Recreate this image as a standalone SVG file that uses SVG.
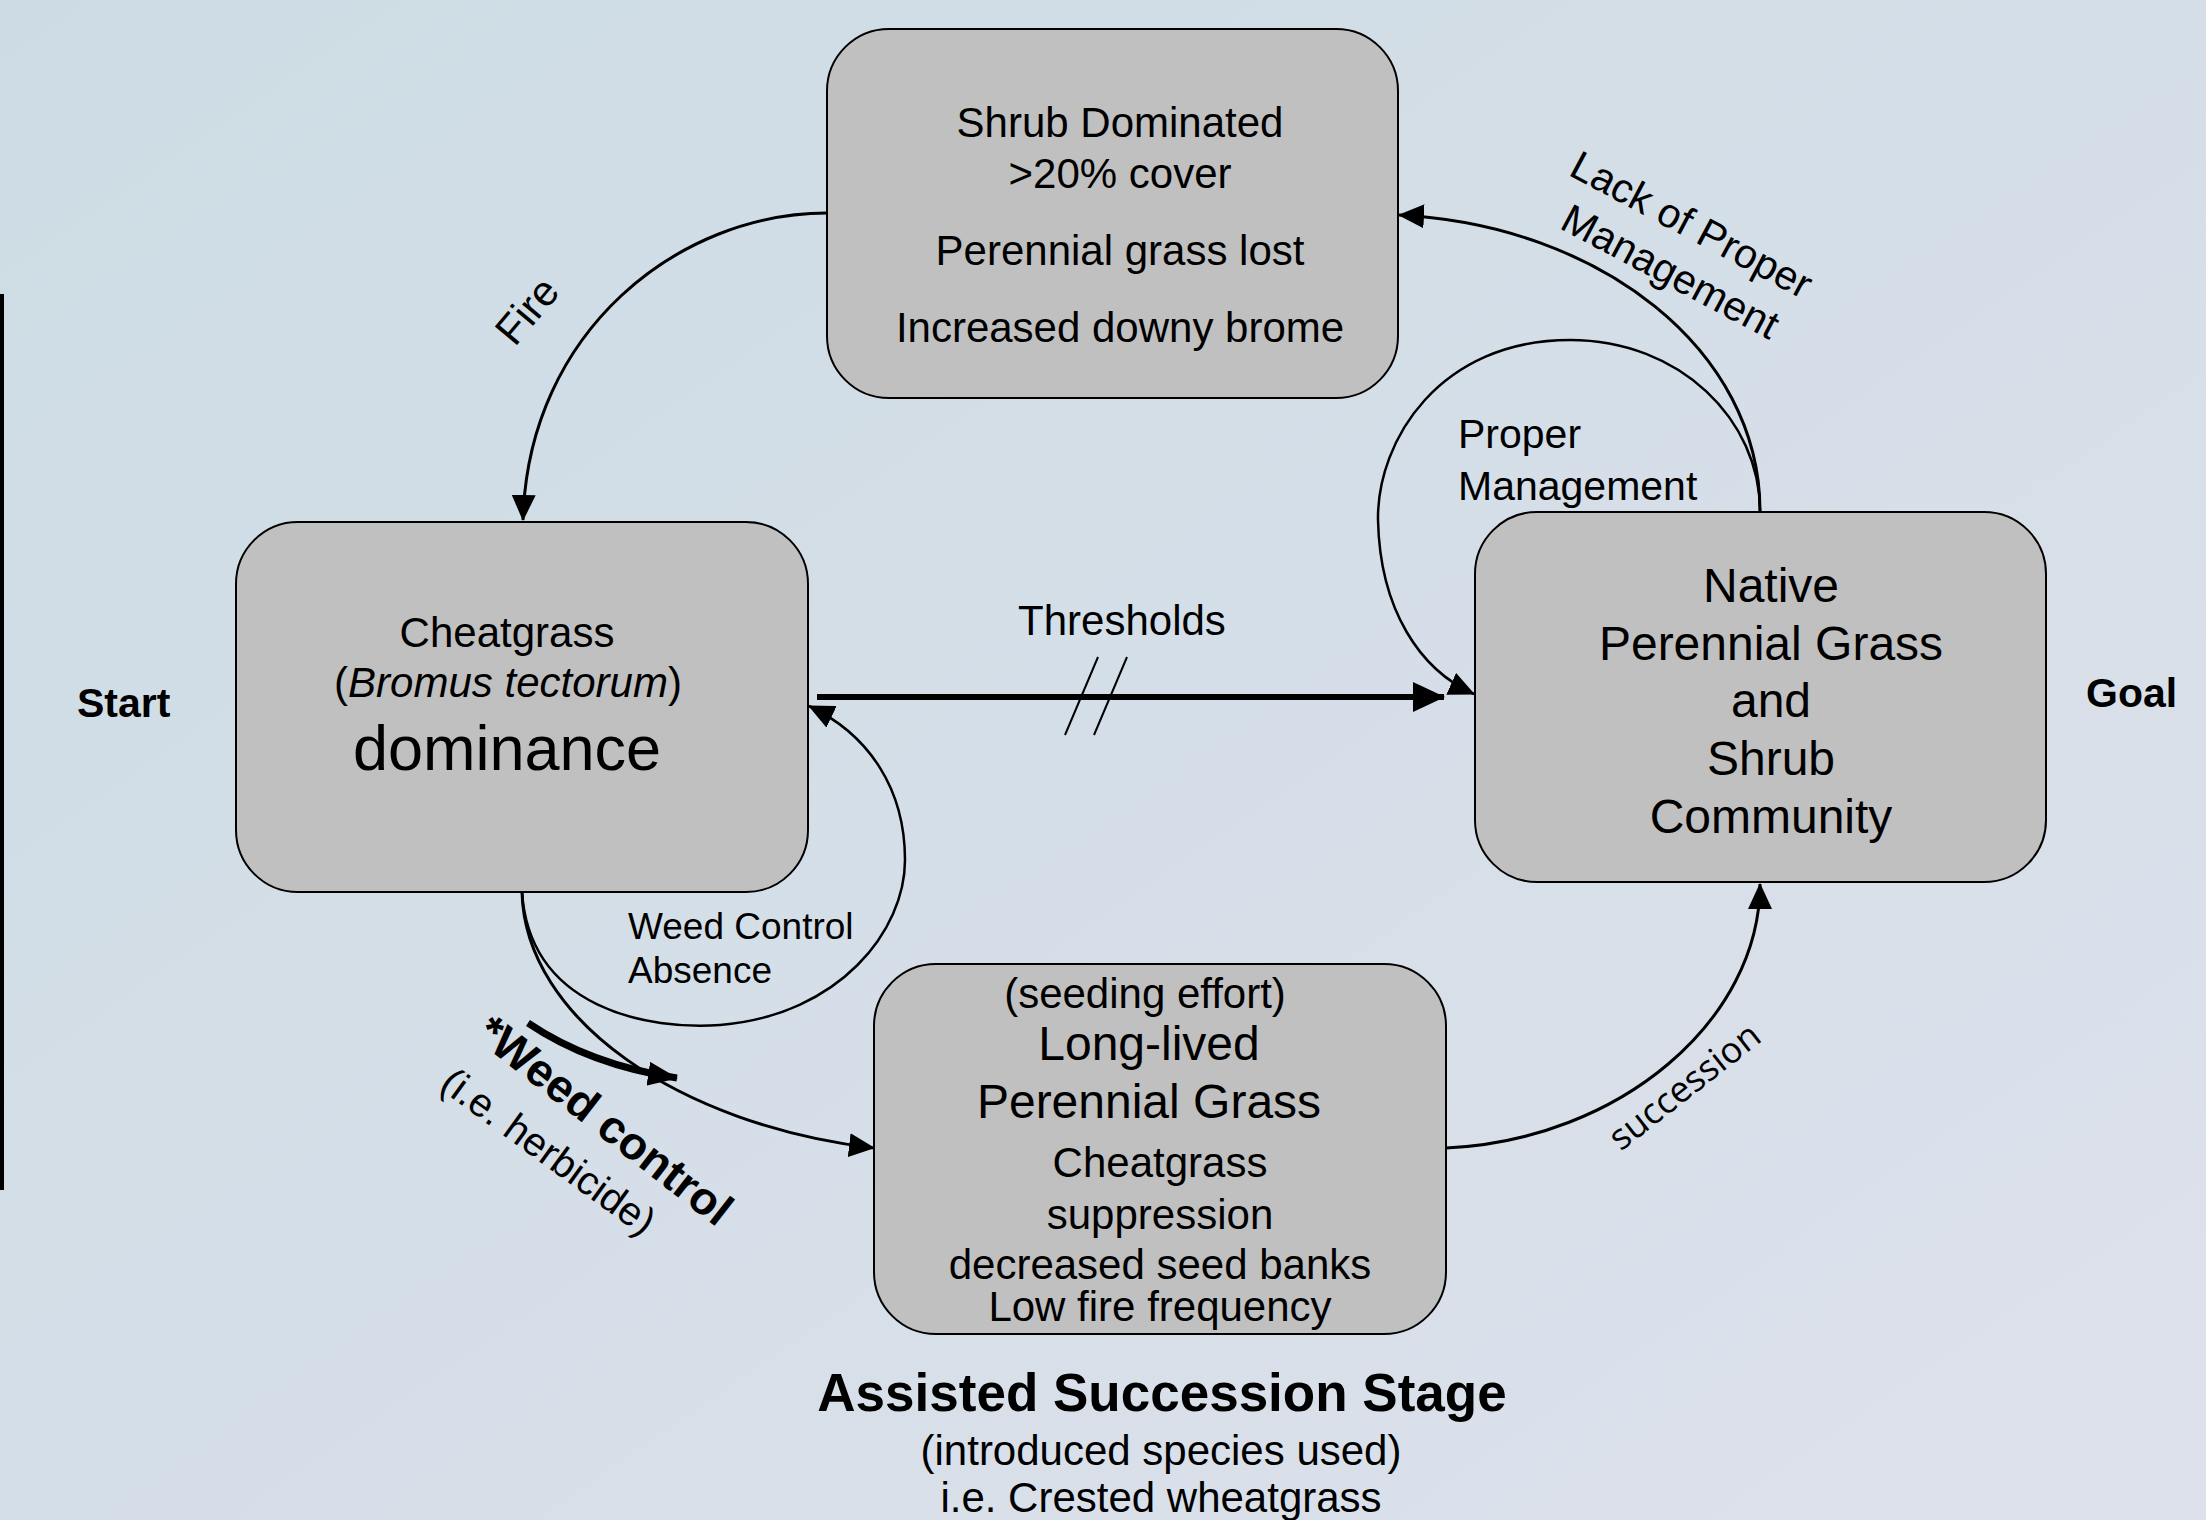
<svg xmlns="http://www.w3.org/2000/svg" width="2206" height="1520" viewBox="0 0 2206 1520">
<defs>
<linearGradient id="bg" x1="0" y1="0" x2="1" y2="1">
<stop offset="0" stop-color="#cddce4"/>
<stop offset="1" stop-color="#dde1ec"/>
</linearGradient>
<marker id="ah" markerUnits="userSpaceOnUse" markerWidth="26" markerHeight="24" refX="25" refY="12" orient="auto">
<path d="M0,0 L26,12 L0,24 z" fill="#000"/>
</marker>
<marker id="ahT" markerUnits="userSpaceOnUse" markerWidth="32" markerHeight="30" refX="31" refY="15" orient="auto">
<path d="M0,0 L32,15 L0,30 z" fill="#000"/>
</marker>
<marker id="ahW" markerUnits="userSpaceOnUse" markerWidth="30" markerHeight="24" refX="29" refY="12" orient="auto">
<path d="M0,0 L30,12 L0,24 z" fill="#000"/>
</marker>
</defs>
<style>
.box{fill:#c0c0c0;stroke:#000;stroke-width:2}
.t{font-family:"Liberation Sans",Arial,sans-serif;fill:#000}
.c{text-anchor:middle}
.b{font-weight:bold}
.ln{fill:none;stroke:#000;stroke-width:3}
.lt{fill:none;stroke:#000;stroke-width:2.5}
</style>
<rect x="0" y="0" width="2206" height="1520" fill="url(#bg)"/>
<line x1="2" y1="294" x2="2" y2="1190" stroke="#000" stroke-width="4"/>

<g id="connectors">
<path class="ln" d="M827,213 C680,213 528,330 523,520" marker-end="url(#ah)"/>
<path class="ln" d="M1760,511 C1760,350 1600,225 1399,215" marker-end="url(#ah)"/>
<path class="lt" d="M1760,511 C1760,420 1680,340 1570,340 C1440,340 1377,440 1378,520 C1380,610 1420,670 1474,694" marker-end="url(#ah)"/>
<path fill="none" stroke="#000" stroke-width="6" d="M817,697 L1444,697" marker-end="url(#ahT)"/>
<line x1="1098" y1="657" x2="1065" y2="735" stroke="#000" stroke-width="2"/>
<line x1="1127" y1="657" x2="1094" y2="735" stroke="#000" stroke-width="2"/>
<path class="lt" d="M522,892 C530,1010 650,1030 720,1025 C840,1015 905,930 905,860 C905,790 870,735 809,706" marker-end="url(#ah)"/>
<path class="ln" d="M522,892 C525,1020 680,1125 874,1148" marker-end="url(#ah)"/>
<path fill="none" stroke="#000" stroke-width="7" d="M528,1023 Q590,1065 677,1078" marker-end="url(#ahW)"/>
<path class="ln" d="M1446,1148 C1620,1140 1760,1020 1760,884" marker-end="url(#ah)"/>
<text class="t c" font-size="42" x="1122" y="635">Thresholds</text>
<text class="t c" font-size="42" transform="translate(538,320) rotate(-50)">Fire</text>
<text class="t c" font-size="41" transform="translate(1685,237) rotate(28)">Lack of Proper</text>
<text class="t c" font-size="41" transform="translate(1664,284) rotate(28)">Management</text>
<text class="t" font-size="41" x="1458" y="448">Proper</text>
<text class="t" font-size="41" x="1458" y="500">Management</text>
<text class="t" font-size="37" x="628" y="939">Weed Control</text>
<text class="t" font-size="37" x="628" y="983">Absence</text>
<text class="t b" font-size="46" transform="translate(474,1038) rotate(38)">*Weed control</text>
<text class="t" font-size="40" transform="translate(438,1088) rotate(36)">(i.e. herbicide)</text>
<text class="c" font-family="'Open Sans',sans-serif" font-size="36" fill="#000" transform="translate(1692,1096) rotate(-38)">succession</text>
</g>

<g id="shrub">
<rect class="box" x="827" y="29" width="571" height="369" rx="62" ry="62"/>
<text class="t c" font-size="42" x="1120" y="137">Shrub Dominated</text>
<text class="t c" font-size="42" x="1120" y="188">&gt;20% cover</text>
<text class="t c" font-size="42" x="1120" y="265">Perennial grass lost</text>
<text class="t c" font-size="42" x="1120" y="342">Increased downy brome</text>
</g>

<g id="cheatgrass">
<rect class="box" x="236" y="522" width="572" height="370" rx="62" ry="62"/>
<text class="t c" font-size="42" x="507" y="647">Cheatgrass</text>
<text class="t c" font-size="42" x="508" y="697">(<tspan font-style="italic">Bromus tectorum</tspan>)</text>
<text class="t c" font-size="63" x="507" y="770">dominance</text>
</g>

<g id="native">
<rect class="box" x="1475" y="512" width="571" height="370" rx="62" ry="62"/>
<text class="t c" font-size="48" x="1771" y="602">Native</text>
<text class="t c" font-size="48" x="1771" y="660">Perennial Grass</text>
<text class="t c" font-size="48" x="1771" y="717">and</text>
<text class="t c" font-size="48" x="1771" y="775">Shrub</text>
<text class="t c" font-size="48" x="1771" y="833">Community</text>
</g>

<g id="assisted">
<rect class="box" x="874" y="964" width="572" height="370" rx="62" ry="62"/>
<text class="t c" font-size="42" x="1145" y="1008">(seeding effort)</text>
<text class="t c" font-size="48" x="1149" y="1060">Long-lived</text>
<text class="t c" font-size="48" x="1149" y="1118">Perennial Grass</text>
<text class="t c" font-size="42" x="1160" y="1177">Cheatgrass</text>
<text class="t c" font-size="42" x="1160" y="1229">suppression</text>
<text class="t c" font-size="42" x="1160" y="1279">decreased seed banks</text>
<text class="t c" font-size="42" x="1160" y="1321">Low fire frequency</text>
</g>

<g id="start">
<text class="t b" font-size="41" x="77" y="717">Start</text>
</g>
<g id="goal">
<text class="t b" font-size="41" x="2086" y="707">Goal</text>
</g>
<g id="stage-caption">
<text class="t c b" font-size="53" x="1162" y="1411">Assisted Succession Stage</text>
<text class="t c" font-size="42" x="1161" y="1465">(introduced species used)</text>
<text class="t c" font-size="42" x="1161" y="1512">i.e. Crested wheatgrass</text>
</g>
</svg>
